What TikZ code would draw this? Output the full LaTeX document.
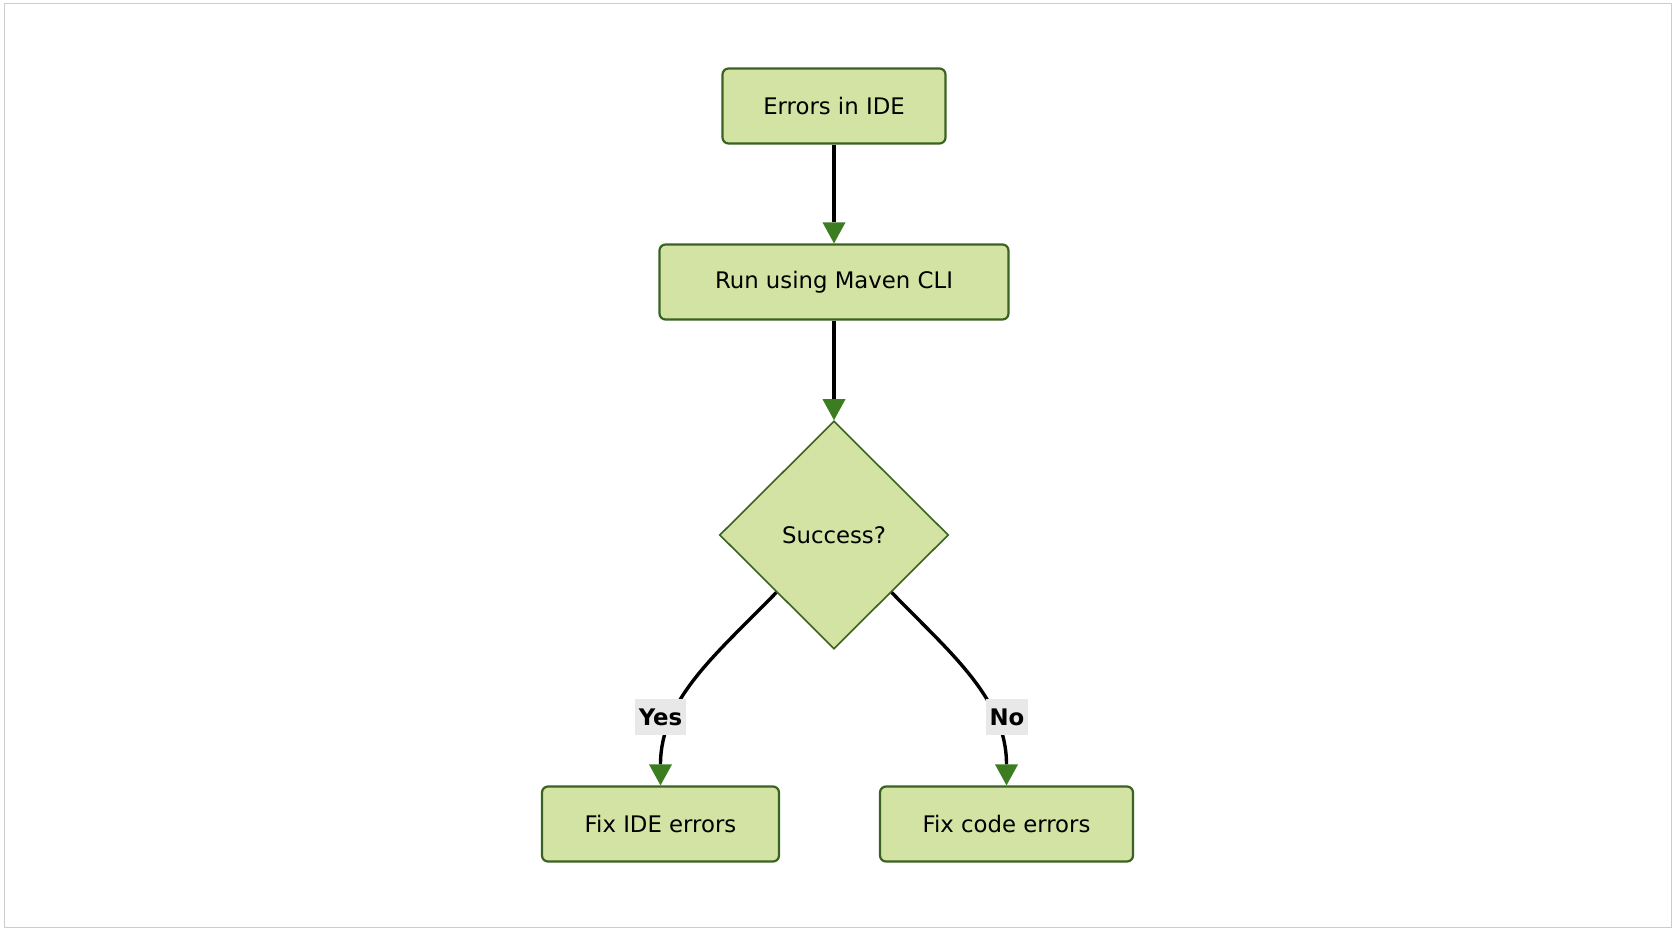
\documentclass[tikz,border=0pt]{standalone}
\usepackage{fontspec}
\setmainfont{DejaVu Sans}
\usetikzlibrary{arrows.meta,shapes.geometric,positioning}
\definecolor{boxfill}{HTML}{D3E3A3}
\definecolor{boxdraw}{HTML}{3A6220}
\definecolor{tipgreen}{HTML}{3D7D22}
\definecolor{labelbg}{HTML}{E8E8E8}
\definecolor{framegray}{HTML}{CCCCCC}

\begin{document}
\begin{tikzpicture}[
			x=0.5pt, y=-0.5pt,
			every node/.style={font=\fontsize{11.4}{13}\selectfont},
			box/.style={rectangle,rounded corners=3pt,draw=boxdraw,fill=boxfill,line width=1.1pt,minimum height=37.5pt,inner sep=0pt},
			decision/.style={diamond,draw=boxdraw,fill=boxfill,line width=0.8pt,minimum width=114.5pt,minimum height=114pt,inner sep=0pt},
			flow/.style={draw=black,line width=1.7pt,-{Triangle[length=10.5pt,width=11.5pt,color=tipgreen,line width=0pt]}},
			edgelabel/.style={fill=labelbg,font=\bfseries\fontsize{11.4}{13}\selectfont,minimum height=18pt,inner xsep=2pt,inner ysep=1pt}
		]

		\useasboundingbox (0,0) rectangle (1676,932);
		\draw[framegray,line width=0.75pt] (4.5,3.5) rectangle (1671.5,927.5);

		\node[box,minimum width=111.5pt] (err) at (834,106) {Errors in IDE};
		\node[box,minimum width=174.5pt] (run) at (834,282) {Run using Maven CLI};
		\node[decision] (succ) at (834,535) {Success?};
		\node[box,minimum width=118.5pt] (fixide) at (660.5,824) {Fix IDE errors};
		\node[box,minimum width=126.5pt] (fixcode) at (1006.5,824) {Fix code errors};

		\draw[flow] (err) -- (run);
		\draw[flow] (run) -- (succ);
		\draw[flow] (succ.south west) .. controls +(-58,60) and +(0,-87) .. (fixide.north);
		\draw[flow] (succ.south east) .. controls +(58,60) and +(0,-87) .. (fixcode.north);

		% branch labels
		\node[edgelabel] (yes) at (660.5,717) {Yes};
		\node[edgelabel] (no) at (1007,717) {No};

	\end{tikzpicture}
\end{document}
